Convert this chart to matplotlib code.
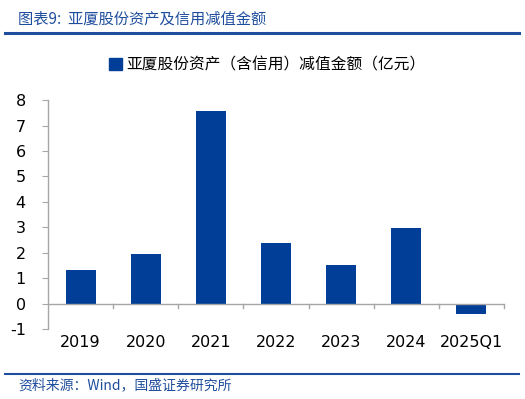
import matplotlib
matplotlib.use("Agg")
import matplotlib.pyplot as plt
from matplotlib.lines import Line2D
from matplotlib.patches import Patch

plt.rcParams['font.family'] = ['DejaVu Sans', 'Noto Sans CJK SC']

categories = ["2019", "2020", "2021", "2022", "2023", "2024", "2025Q1"]
values = [1.34, 1.94, 7.58, 2.37, 1.50, 2.96, -0.42]
y_ticks = [-1, 0, 1, 2, 3, 4, 5, 6, 7, 8]
series_name = "亚厦股份资产（含信用）减值金额（亿元）"
title = "图表9:  亚厦股份资产及信用减值金额"
source = "资料来源：Wind，国盛证券研究所"

bar_color = "#003E97"
line_blue = "#1F4E9E"
grey = "#A6A6A6"

fig = plt.figure(figsize=(5.25, 3.99), dpi=100)
ax = fig.add_axes([0.0914, 0.1754, 0.8686, 0.5736])

x = list(range(len(categories)))
ax.bar(x, values, width=0.46, color=bar_color, zorder=2)
ax.set_xlim(-0.5, len(categories) - 0.5)
ax.set_ylim(-1, 8)
ax.set_yticks(y_ticks)
ax.set_yticklabels([str(v) for v in y_ticks], fontsize=11.5)

for s in ["top", "right", "bottom"]:
    ax.spines[s].set_visible(False)
ax.spines["left"].set_color(grey)
ax.spines["left"].set_linewidth(1.0)
ax.tick_params(axis="y", direction="out", length=4, color=grey, pad=12)
ax.axhline(0, color=grey, lw=1.0, zorder=3)
ax.tick_params(axis="x", length=0, pad=4)
ax.set_xticks(x)
ax.set_xticklabels(categories, fontsize=11.5)
# minor ticks between categories on zero line
for b in [i + 0.5 for i in range(len(categories))]:
    ax.plot([b, b], [0, -0.18], color=grey, lw=1.0, clip_on=False, zorder=3)

handle = Patch(facecolor=bar_color, edgecolor=bar_color)
leg = fig.legend([handle], [series_name], loc="center", bbox_to_anchor=(0.51, 0.837),
                 frameon=False, handlelength=0.8, handleheight=0.8,
                 handletextpad=0.3, prop={'family': ['Noto Sans CJK SC'], 'size': 11.3})

fig.text(0.034, 0.952, title, color=line_blue, fontsize=11, style="italic",
         family=['Noto Sans CJK SC', 'DejaVu Sans'], va="center", ha="left")
fig.add_artist(Line2D([0.01, 0.988], [0.918, 0.918], color=line_blue, lw=2.2,
                      transform=fig.transFigure))
fig.add_artist(Line2D([0.01, 0.988], [0.063, 0.063], color=line_blue, lw=1.5,
                      transform=fig.transFigure))
fig.text(0.034, 0.035, source, color=line_blue, fontsize=10, style="italic",
         family=['Noto Sans CJK SC', 'DejaVu Sans'], va="center", ha="left")

fig.savefig("out.png", dpi=100)
